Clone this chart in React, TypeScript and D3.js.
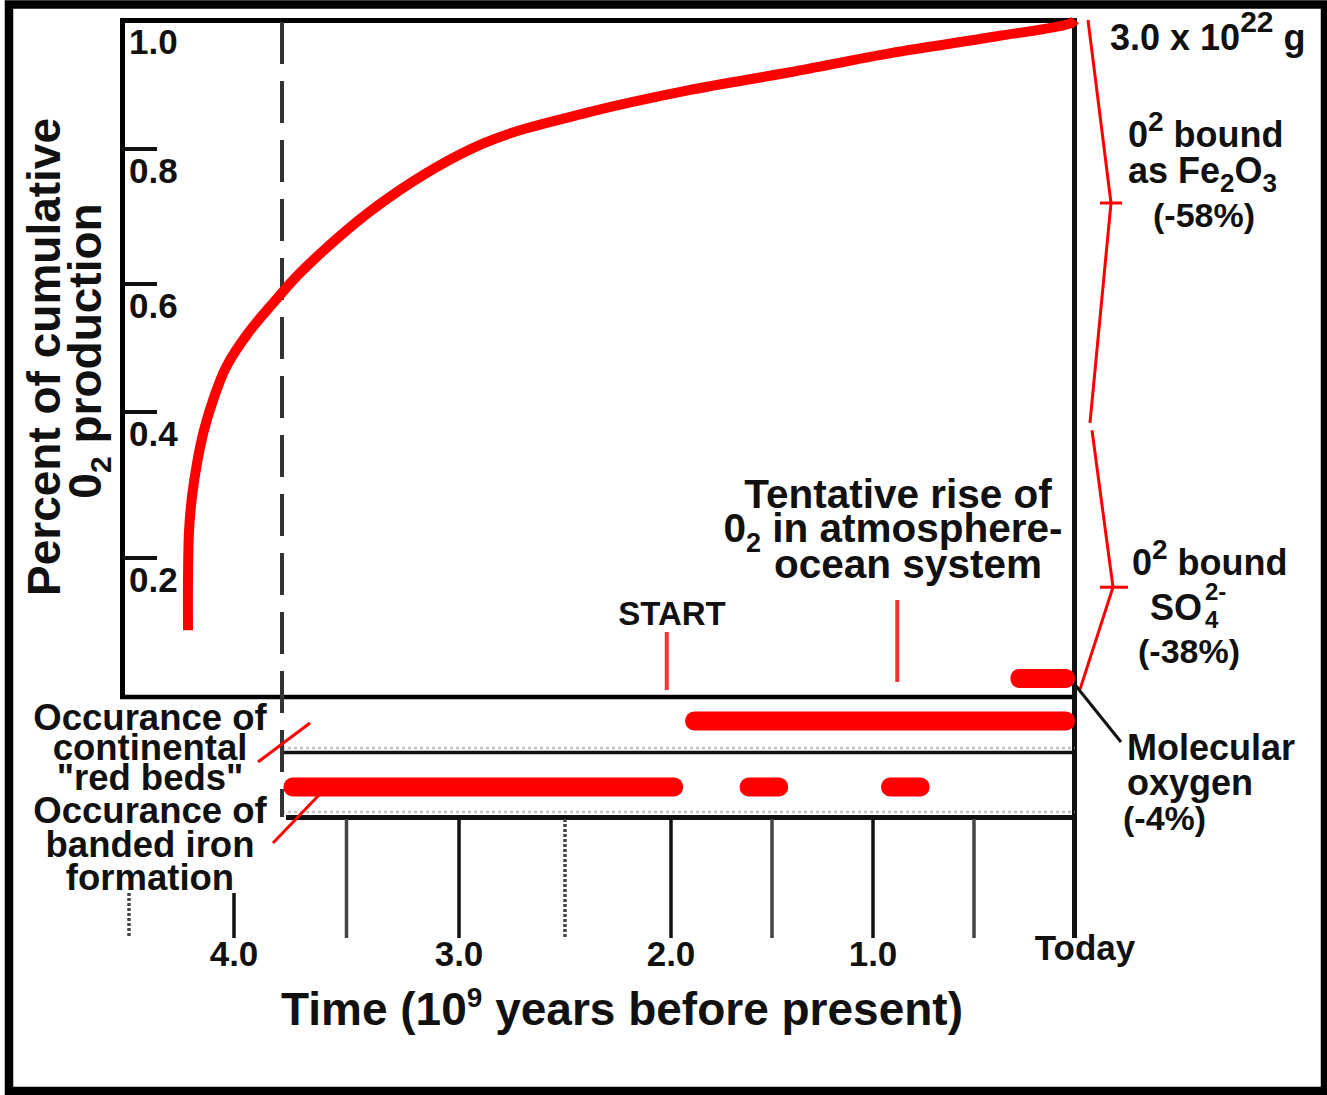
import React from "react";
import * as d3 from "d3";

// Time in 10^9 years before present, fraction of cumulative O2 production
const curveTime = [4.219, 4.219, 4.214, 4.2, 4.176, 4.143, 4.095, 4.038, 3.938, 3.822, 3.693, 3.329, 2.882, 2.401, 1.916, 1.411, 0.906, 0.401, 0.02, 0];
const curveFraction = [0.101, 0.17, 0.238, 0.284, 0.33, 0.375, 0.423, 0.47, 0.523, 0.572, 0.621, 0.724, 0.809, 0.856, 0.891, 0.919, 0.949, 0.974, 0.995, 1.0];

// Occurrence intervals [from, to] in Ga
const redBeds = [[1.93, 0]];
const bandedIron = [[3.78, 1.94], [1.66, 1.42], [0.96, 0.72]];
const molecularOxygen = [[0.32, 0]];
const molecularOxygenLevel = 0.035;

const timeTicks = [4.5, 4, 3.5, 3, 2.5, 2, 1.5, 1, 0.5, 0];
const timeLabelValues = [4, 3, 2, 1, 0];
const timeLabels = ["4.0", "3.0", "2.0", "1.0", "Today"];

const fractionTicks = [0.2, 0.4, 0.6, 0.8];
const fractionLabelValues = [0.2, 0.4, 0.6, 0.8, 1.0];
const fractionLabels = ["0.2", "0.4", "0.6", "0.8", "1.0"];

// braces on the right: [top, mid, bottom] fractions
const braces = [[1.0, 0.72, 0.385], [0.375, 0.16, 0.02]];

const START_TIME = 2.02;
const RISE_TIME = 0.88;

const font = "'Liberation Sans', Arial, Helvetica, sans-serif";

export default function App() {
  const width = 1327;
  const height = 1095;

  // hand drawn axes are not evenly spaced, so polylinear scales
  const x = d3.scaleLinear().domain([4.5, 4, 3, 2, 1, 0]).range([129, 234, 459, 671, 873, 1075]);
  const y = d3.scaleLinear().domain([0.2, 0.4, 0.6, 0.8, 1.0]).range([558, 412, 284, 149, 20]);

  const box = { left: 122.5, right: 1074.5, top: 20.5, bottom: 697 };
  const dashX = 282;
  const rows = d3.scalePoint<string>().domain(["redBeds", "bif"]).range([721, 787]);
  const barH = 19;

  const line = d3.line<number>()
    .x((_, i) => x(curveTime[i]))
    .y((d) => y(d))
    .curve(d3.curveCatmullRom);

  const bar = (iv: number[], cy: number, key: string) => (
    <rect key={key} x={x(iv[0])} y={cy - barH / 2} width={x(iv[1]) - x(iv[0])}
      height={barH} rx={9} fill="#ff0000" />
  );

  const red = "#ff0000";

  return (
    <svg width={width} height={height} style={{ position: "absolute", left: 0, top: 0 }}
      fontFamily={font} fontWeight="bold" fill="#111">
      <rect x={0} y={0} width={width} height={height} fill="#fff" />
      <rect x={9} y={4.5} width={1316} height={1086.5} fill="none" stroke="#000" strokeWidth={8.5} />

      {/* main box */}
      <line x1={box.left} x2={box.left} y1={18} y2={699} stroke="#000" strokeWidth={5} />
      <line x1={120} x2={1077} y1={box.top} y2={box.top} stroke="#000" strokeWidth={5} />
      <line x1={120} x2={1077} y1={box.bottom} y2={box.bottom} stroke="#000" strokeWidth={4.5} />
      <line x1={box.right} x2={box.right} y1={18} y2={938} stroke="#111" strokeWidth={5} />

      {/* occurrence bands */}
      <line x1={dashX} x2={box.right} y1={748} y2={748} stroke="#c4c4c4" strokeWidth={2.5} strokeDasharray="3 3" />
      <line x1={dashX} x2={box.right} y1={752.5} y2={752.5} stroke="#111" strokeWidth={3.5} />
      <line x1={dashX} x2={box.right} y1={812} y2={812} stroke="#c4c4c4" strokeWidth={2.5} strokeDasharray="3 3" />
      <line x1={dashX + 4} x2={box.right} y1={817.5} y2={817.5} stroke="#111" strokeWidth={5} />

      {/* dashed line */}
      <line x1={dashX} x2={dashX} y1={22} y2={817} stroke="#333" strokeWidth={4} strokeDasharray="42 17" />

      {/* y ticks */}
      {fractionTicks.map((v) => (
        <line key={v} x1={box.left} x2={157} y1={y(v)} y2={y(v)} stroke="#111" strokeWidth={4} />
      ))}
      {fractionLabelValues.map((v, i) => (
        <text key={v} x={129} y={y(v) + 34} fontSize={35}>{fractionLabels[i]}</text>
      ))}

      {/* x ticks */}
      {timeTicks.map((t) => {
        const minor = t % 1 !== 0;
        return (
          <line key={t} x1={x(t)} x2={x(t)} y1={x(t) < dashX ? 893 : 819} y2={938}
            stroke={minor ? "#444" : "#111"} strokeWidth={3.5}
            strokeDasharray={t === 2.5 || t === 4.5 ? "3 2" : undefined} />
        );
      })}
      {timeLabelValues.map((t, i) => (
        <text key={t} x={x(t) + (t === 0 ? 10 : 0)} y={t === 0 ? 960 : 966}
          textAnchor="middle" fontSize={35}>{timeLabels[i]}</text>
      ))}

      {/* cumulative O2 curve */}
      <path d={line(curveFraction) ?? ""} fill="none" stroke={red} strokeWidth={10} />

      {/* bars */}
      {molecularOxygen.map((iv, i) => bar(iv, y(molecularOxygenLevel), "mo" + i))}
      {redBeds.map((iv, i) => bar(iv, rows("redBeds") ?? 0, "rb" + i))}
      {bandedIron.map((iv, i) => bar(iv, rows("bif") ?? 0, "bif" + i))}

      {/* start / rise markers */}
      <line x1={x(START_TIME)} x2={x(START_TIME)} y1={632} y2={690} stroke="#ff3030" strokeWidth={4} />
      <line x1={x(RISE_TIME)} x2={x(RISE_TIME)} y1={600} y2={682} stroke="#ff3030" strokeWidth={4} />
      <text x={672} y={625} textAnchor="middle" fontSize={33}>START</text>
      <text x={898} y={508} textAnchor="middle" fontSize={40.5}>Tentative rise of</text>
      <text x={893} y={542} textAnchor="middle" fontSize={40.5}>
        0<tspan fontSize={27} dy={10}>2</tspan><tspan dy={-10}> in atmosphere-</tspan>
      </text>
      <text x={908} y={578} textAnchor="middle" fontSize={40.5}>ocean system</text>

      {/* left labels */}
      <text transform="translate(60,357) rotate(-90)" textAnchor="middle" fontSize={46}>Percent of cumulative</text>
      <text transform="translate(101,351) rotate(-90)" textAnchor="middle" fontSize={46}>
        0<tspan fontSize={30} dy={10}>2</tspan><tspan dy={-10}> production</tspan>
      </text>

      {["Occurance of", "continental", "\"red beds\"", "Occurance of", "banded iron", "formation"].map((s, i) => (
        <text key={i} x={150} y={[730, 760, 790, 823, 857, 890][i]} textAnchor="middle" fontSize={36.5}>{s}</text>
      ))}
      <line x1={258} y1={762} x2={310} y2={723} stroke={red} strokeWidth={3} />
      <line x1={273} y1={843} x2={319} y2={795} stroke={red} strokeWidth={3} />

      {/* right braces */}
      {braces.map((b, i) => {
        const xs = i === 0 ? [1088, 1111, 1090] : [1092, 1113, 1080];
        const pts: [number, number][] = b.map((v, j) => [xs[j], y(v)]);
        return (
          <g key={i}>
            <path d={d3.line()(pts) ?? ""} fill="none" stroke={red} strokeWidth={3} />
            <line x1={1100} x2={i === 0 ? 1122 : 1128} y1={y(b[1])} y2={y(b[1])} stroke={red} strokeWidth={3} />
          </g>
        );
      })}
      <text x={1110} y={50} fontSize={36}>
        3.0 x 10<tspan fontSize={30} dy={-18}>22</tspan><tspan dy={18}> g</tspan>
      </text>
      <text x={1128} y={147} fontSize={36}>
        0<tspan fontSize={28} dy={-16}>2</tspan><tspan dy={16}> bound</tspan>
      </text>
      <text x={1128} y={183} fontSize={36}>
        as Fe<tspan fontSize={26} dy={9}>2</tspan><tspan dy={-9}>O</tspan><tspan fontSize={26} dy={9}>3</tspan>
      </text>
      <text x={1153} y={227} fontSize={34}>(-58%)</text>

      <text x={1132} y={575} fontSize={36}>
        0<tspan fontSize={28} dy={-16}>2</tspan><tspan dy={16}> bound</tspan>
      </text>
      <text x={1150} y={620} fontSize={36}>SO</text>
      <text x={1205} y={628} fontSize={24}>4</text>
      <text x={1205} y={600} fontSize={24}>2-</text>
      <text x={1138} y={663} fontSize={34}>(-38%)</text>

      <line x1={1076} y1={686} x2={1121} y2={742} stroke="#111" strokeWidth={3} />
      <text x={1127} y={760} fontSize={36}>Molecular</text>
      <text x={1127} y={795} fontSize={36}>oxygen</text>
      <text x={1123} y={830} fontSize={34}>(-4%)</text>

      {/* x title */}
      <text x={622} y={1025} textAnchor="middle" fontSize={46}>
        Time (10<tspan fontSize={28} dy={-18}>9</tspan><tspan dy={18}> years before present)</tspan>
      </text>
    </svg>
  );
}
